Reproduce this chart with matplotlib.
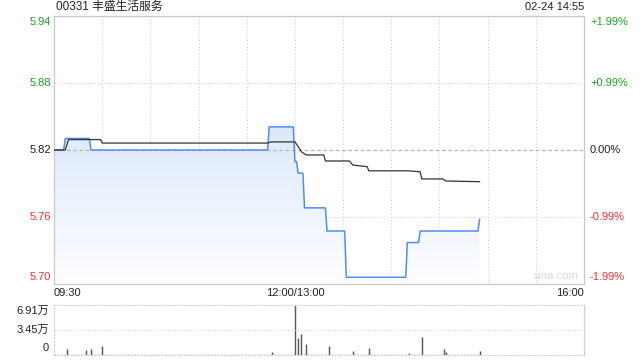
import numpy as np
import matplotlib
matplotlib.use("Agg")
import matplotlib.pyplot as plt
from matplotlib.patches import Polygon
import matplotlib.transforms as mtransforms

plt.rcParams['font.family'] = ['Liberation Sans', 'Noto Sans CJK SC', 'DejaVu Sans']

# ---------------- data ----------------
title = "00331 丰盛生活服务"
stamp = "02-24 14:55"
prev_close = 5.82
pct_range = 0.0199

price_t = [0, 7, 23, 134, 150, 152, 156, 170, 182, 220, 228, 265]
price_v = [5.82, 5.83, 5.82, 5.84, 5.81, 5.80, 5.77, 5.75, 5.71, 5.74, 5.75, 5.76]

avg_t = [0, 7, 9, 23, 29, 30, 133, 135, 150, 152, 154, 157, 168, 169, 184, 186,
         195, 196, 220, 228, 229, 242, 244, 265]
avg_v = [5.82, 5.82, 5.829, 5.829, 5.829, 5.826, 5.826, 5.827, 5.827, 5.823, 5.8185,
         5.8157, 5.8157, 5.8105, 5.8105, 5.807, 5.8056, 5.802, 5.802, 5.8012, 5.795,
         5.795, 5.7932, 5.7926]

vol_t = [8, 20, 23, 30, 136, 150, 152, 154, 157, 171, 186, 196, 221, 229, 243, 244, 265]
vol_v = [0.83, 0.7, 0.83, 1.25, 0.45, 6.91, 2.3, 2.9, 1.5, 1.25, 0.55, 1.0, 0.25, 2.5,
         0.8, 0.35, 0.55]  # 万

price_labels = ["5.94", "5.88", "5.82", "5.76", "5.70"]
pct_labels = ["+1.99%", "+0.99%", "0.00%", "-0.99%", "-1.99%"]
vol_labels = ["6.91万", "3.45万", "0"]
vol_ticks = [6.91, 3.45, 0]
time_labels = ["09:30", "12:00/13:00", "16:00"]
time_ticks = [0, 150, 330]
total_min = 330

# ---------------- figure ----------------
W, H = 640, 360
fig = plt.figure(figsize=(6.4, 3.6), dpi=100)
ax = fig.add_axes([54 / W, 1 - 284 / H, 530 / W, 268 / H])
vax = fig.add_axes([54 / W, 1 - 355 / H, 530 / W, 50 / H])

green = '#1f9f1f'
red = '#ee3030'
black = '#222222'
lab_colors = [green, green, black, red, red]

half = prev_close * pct_range
ymin, ymax = prev_close - half, prev_close + half
ax.set_xlim(0, total_min)
ax.set_ylim(ymin, ymax)

# build price vertices (1-minute transitions)
px, py = [price_t[0]], [price_v[0]]
for i in range(1, len(price_t)):
    px.append(price_t[i] - 1); py.append(price_v[i - 1])
    px.append(price_t[i]); py.append(price_v[i])

# gradient fill under price
verts = [(px[0], ymin)] + list(zip(px, py)) + [(px[-1], ymin)]
poly = Polygon(verts, closed=True, facecolor='none', edgecolor='none')
ax.add_patch(poly)
grad = np.linspace(0, 1, 256).reshape(-1, 1)
top_c = np.array([0.86, 0.91, 0.985])
bot_c = np.array([0.995, 0.997, 1.0])
img = top_c * (1 - grad[..., None]) + bot_c * grad[..., None]
img = img.reshape(256, 1, 3)
im = ax.imshow(img, extent=[0, total_min, ymin, prev_close + 0.025], origin='upper',
               aspect='auto', zorder=1, interpolation='bilinear')
im.set_clip_path(poly)
ax.set_ylim(ymin, ymax)
ax.set_xlim(0, total_min)

# grid
for m in range(30, total_min, 30):
    ax.axvline(m, color='#cfcfcf', lw=0.8, ls=(0, (1, 2)), zorder=0.5)
for k in (1, -1):
    ax.axhline(prev_close + k * half / 2, color='#cfcfcf', lw=0.8, ls=(0, (1, 2)), zorder=0.5)
ax.axhline(prev_close, color='#b5b5b5', lw=0.9, ls=(0, (3, 2)), zorder=2)

ax.plot(px, py, color='#4f8ef0', lw=1.1, zorder=3)
ax.plot(avg_t, avg_v, color='#333333', lw=0.9, zorder=4)

for s in ax.spines.values():
    s.set_color('#c8c8c8')
    s.set_linewidth(0.9)
ax.set_xticks([]); ax.set_yticks([])

# y labels
yvals = [prev_close + half, prev_close + half / 2, prev_close, prev_close - half / 2, prev_close - half]
vas = ['top', 'center', 'center', 'center', 'bottom']
offs = [-1, 0, 0, 0, 2]
for yv, lab, pl, c, va, o in zip(yvals, price_labels, pct_labels, lab_colors, vas, offs):
    t1 = mtransforms.offset_copy(ax.get_yaxis_transform(), fig=fig, x=-3, y=o, units='dots')
    ax.text(0, yv, lab, transform=t1, ha='right', va=va, fontsize=8, color=c)
    t2 = mtransforms.offset_copy(ax.get_yaxis_transform(), fig=fig, x=6, y=o, units='dots')
    ax.text(1, yv, pl, transform=t2, ha='left', va=va, fontsize=8, color=c)

# time labels
has = ['left', 'center', 'right']
for tt, tl, ha in zip(time_ticks, time_labels, has):
    ax.annotate(tl, xy=(tt, 0), xycoords=('data', 'axes fraction'), xytext=(0, -9),
                textcoords='offset pixels', ha=ha, va='center', fontsize=8, color=black)

fig.text(56 / W, 1 - 7 / H, title, ha='left', va='center', fontsize=8.5, color=black)
fig.text(584 / W, 1 - 7 / H, stamp, ha='right', va='center', fontsize=8, color=black)
ax.text(0.99, 0.012, "sina.com", transform=ax.transAxes, ha='right', va='bottom',
        fontsize=8, color='#d8d8d8', zorder=0.6)

# ---------------- volume ----------------
vax.set_xlim(0, total_min)
vax.set_ylim(0, vol_ticks[0])
vax.vlines(vol_t, 0, vol_v, color='#555555', lw=1.0)
vax.plot([0, 265], [0.02, 0.02], color='#666666', lw=1.0, ls=(0, (1, 1.5)))
vax.axhline(vol_ticks[1], color='#cfcfcf', lw=0.8, ls=(0, (1, 2)))
for side in ('top', 'left', 'bottom'):
    vax.spines[side].set_linestyle((0, (1, 2)))
    vax.spines[side].set_color('#cfcfcf')
    vax.spines[side].set_linewidth(0.8)
vax.spines['right'].set_color('#cfcfcf')
vax.spines['right'].set_linewidth(0.9)
vax.set_xticks([]); vax.set_yticks([])
voffs = [-6, 0, 7]
for yv, lab, o in zip(vol_ticks, vol_labels, voffs):
    tr = mtransforms.offset_copy(vax.get_yaxis_transform(), fig=fig, x=-5, y=o, units='dots')
    vax.text(0, yv, lab, transform=tr, ha='right', va='center', fontsize=8, color=black)

fig.savefig("out.png", dpi=100)
